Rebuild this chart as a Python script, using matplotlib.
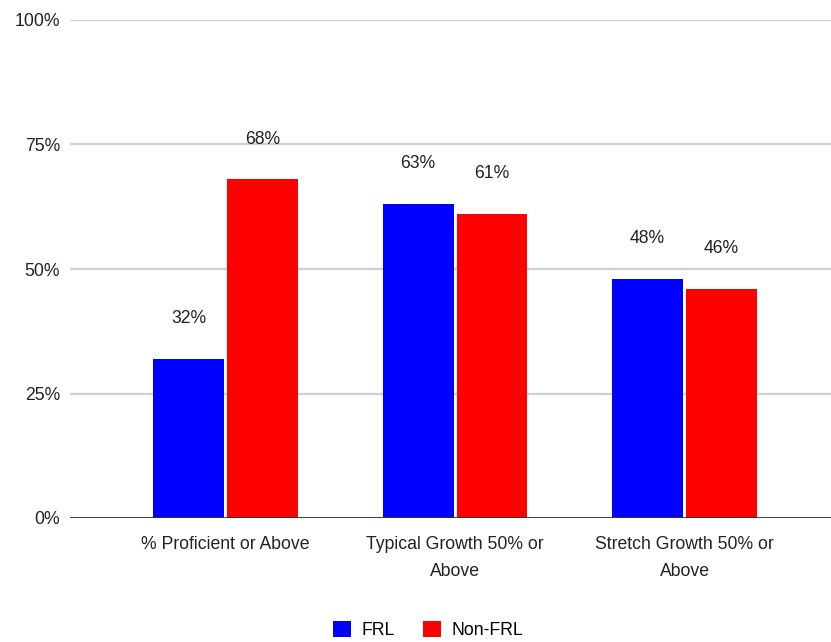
import numpy as np
import matplotlib.pyplot as plt
from matplotlib import font_manager

categories = ['% Proficient or Above', 'Typical Growth 50% or\nAbove', 'Stretch Growth 50% or\nAbove']
frl = [32, 63, 48]
non_frl = [68, 61, 46]
series_names = ['FRL', 'Non-FRL']
colors = ['#0000ff', '#ff0000']
yticks = [0, 25, 50, 75, 100]

# narrow face if the system has it, plain Liberation otherwise
names = {f.name for f in font_manager.fontManager.ttflist}
if 'Liberation Sans Narrow' in names:
    plt.rcParams['font.family'] = ['Liberation Sans Narrow', 'DejaVu Sans']
    fs = 15
else:
    plt.rcParams['font.family'] = ['Liberation Sans', 'DejaVu Sans']
    fs = 12.7

fig = plt.figure(figsize=(8.31, 6.42), dpi=100)
ax = fig.add_axes([70 / 831, 124 / 642, 761 / 831, 498 / 642])

x = np.arange(len(categories))
w = 0.309
off = 0.161
bars1 = ax.bar(x - off, frl, w, color=colors[0], label=series_names[0], zorder=3)
bars2 = ax.bar(x + off, non_frl, w, color=colors[1], label=series_names[1], zorder=3)

for bars in (bars1, bars2):
    for b in bars:
        h = b.get_height()
        ax.annotate(f'{h:.0f}%', (b.get_x() + b.get_width() / 2, h),
                    xytext=(0, 29), textcoords='offset points',
                    ha='center', va='center', fontsize=fs, color='#222222')

ax.set_xlim(-0.678, 2.638)
ax.set_ylim(0, 100)
ax.set_yticks(yticks)
ax.set_yticklabels([f'{t}%' for t in yticks])
ax.set_xticks(x)
ax.set_xticklabels(categories, linespacing=1.75)
ax.tick_params(axis='y', length=0, pad=7, labelsize=fs, labelcolor='#222222')
ax.tick_params(axis='x', length=0, pad=13, labelsize=fs, labelcolor='#222222')

ax.grid(axis='y', color='#d0d0d0', linewidth=1.6, zorder=0)
for s in ax.spines.values():
    s.set_visible(False)
ax.axhline(0, color='#333333', linewidth=2, zorder=4)

ax.legend(loc='center', bbox_to_anchor=(428 / 831, 0.018), bbox_transform=fig.transFigure,
          ncol=2, frameon=False, fontsize=fs, handlelength=1.0, handleheight=1.0,
          handletextpad=0.6, columnspacing=1.6)

fig.savefig('out.png', dpi=100)
